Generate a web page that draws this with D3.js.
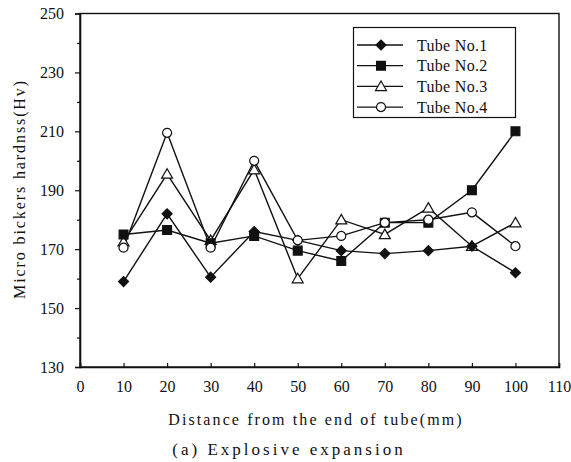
<!DOCTYPE html>
<html>
<head>
<meta charset="utf-8">
<script src="https://cdn.jsdelivr.net/npm/d3@7"></script>
<style>
  html, body { margin: 0; padding: 0; background: #fff; }
  svg { display: block; }
  text { font-family: "Liberation Serif", "Times New Roman", serif; fill: #111; }
</style>
</head>
<body>
<svg id="chart" width="571" height="462"></svg>
<script>
// Distance from the tube end (mm) at which hardness was measured
const distance = [10, 20, 30, 40, 50, 60, 70, 80, 90, 100];

// Micro Vickers hardness (Hv) for each tube
const tube1 = [159, 182, 160.5, 176, 173, 169.5, 168.5, 169.5, 171, 162];
const tube2 = [175, 176.5, 172, 174.5, 169.5, 166, 179, 179, 190, 210];
const tube3 = [172.5, 195.5, 173, 197, 160, 180, 175, 184, 171, 179];
const tube4 = [170.5, 209.5, 170.5, 200, 173, 174.5, 179, 180, 182.5, 171];

const seriesNames = ["Tube No.1", "Tube No.2", "Tube No.3", "Tube No.4"];
const seriesValues = [tube1, tube2, tube3, tube4];
const seriesMarkers = ["diamond", "square", "triangle", "circle"];
// Marker stacking: triangles at the back, circles in front
const markerOrder = [2, 1, 0, 3];

const xTicks = [0, 10, 20, 30, 40, 50, 60, 70, 80, 90, 100, 110];
const yTicks = [130, 150, 170, 190, 210, 230, 250];
const yMinorTicks = [140, 160, 180, 200, 220, 240];

const xTitle = "Distance from the end of tube(mm)";
const yTitle = "Micro bickers hardnss(Hv)";
const caption = "(a) Explosive expansion";

const svg = d3.select("#chart");

const x = d3.scaleLinear().domain([0, 110]).range([80, 559]);
const y = d3.scaleLinear().domain([130, 250]).range([367, 13.5]);

// Plot frame
svg.append("rect")
  .attr("x", x(0)).attr("y", y(250))
  .attr("width", x(110) - x(0)).attr("height", y(130) - y(250))
  .attr("fill", "none").attr("stroke", "#111").attr("stroke-width", 1.4);

// X axis: short inward ticks
const xAxis = svg.append("g")
  .attr("transform", `translate(0,${y(130)})`)
  .call(d3.axisBottom(x).tickValues(xTicks).tickSize(-4).tickPadding(14).tickFormat(d3.format("d")));
xAxis.select(".domain").attr("stroke", "#111").attr("stroke-width", 1.6);
xAxis.selectAll(".tick line").attr("stroke", "#111").attr("stroke-width", 1.2);
xAxis.selectAll(".tick text")
  .attr("font-size", 16).attr("font-family", "Liberation Serif").attr("fill", "#111");

// Y axis: outward major ticks with labels, shorter minor ticks
const yAxis = svg.append("g")
  .attr("transform", `translate(${x(0)},0)`)
  .call(d3.axisLeft(y).tickValues(yTicks).tickSize(5).tickPadding(11).tickFormat(d3.format("d")));
yAxis.select(".domain").attr("stroke", "#111").attr("stroke-width", 1.6);
yAxis.selectAll(".tick line").attr("stroke", "#111").attr("stroke-width", 1.2);
yAxis.selectAll(".tick text")
  .attr("font-size", 16).attr("font-family", "Liberation Serif").attr("fill", "#111");

const yMinor = svg.append("g")
  .attr("transform", `translate(${x(0)},0)`)
  .call(d3.axisLeft(y).tickValues(yMinorTicks).tickSize(3).tickFormat(""));
yMinor.select(".domain").remove();
yMinor.selectAll(".tick line").attr("stroke", "#111").attr("stroke-width", 1.2);

// Axis titles and caption
svg.append("text")
  .attr("x", 316).attr("y", 425)
  .attr("text-anchor", "middle")
  .attr("font-size", 16).attr("letter-spacing", 2.1)
  .text(xTitle);

svg.append("text")
  .attr("transform", "translate(25,189) rotate(-90)")
  .attr("text-anchor", "middle")
  .attr("font-size", 16).attr("letter-spacing", 1.9)
  .text(yTitle);

svg.append("text")
  .attr("x", 289).attr("y", 455)
  .attr("text-anchor", "middle")
  .attr("font-size", 17).attr("letter-spacing", 3)
  .text(caption);

// Marker shapes (diamond = square turned 45 degrees)
const symbolFor = {
  diamond: d3.symbol().type(d3.symbolSquare).size(50),
  square: d3.symbol().type(d3.symbolSquare).size(78),
  triangle: d3.symbol().type(d3.symbolTriangle).size(52),
  circle: d3.symbol().type(d3.symbolCircle).size(64)
};
const filled = { diamond: true, square: true, triangle: false, circle: false };
const turn = { diamond: " rotate(45)", square: "", triangle: " translate(0,1)", circle: "" };

function drawMarker(g, kind, cx, cy) {
  g.append("path")
    .attr("d", symbolFor[kind]())
    .attr("transform", `translate(${cx},${cy})` + turn[kind])
    .attr("fill", filled[kind] ? "#111" : "#fff")
    .attr("stroke", "#111")
    .attr("stroke-width", 1.2);
}

const line = d3.line().x((d, i) => x(distance[i])).y(d => y(d));

const plot = svg.append("g");
seriesValues.forEach((vals) => {
  plot.append("path")
    .datum(vals)
    .attr("d", line)
    .attr("fill", "none")
    .attr("stroke", "#111")
    .attr("stroke-width", 1.4);
});
markerOrder.forEach((s) => {
  const g = plot.append("g");
  seriesValues[s].forEach((v, i) => drawMarker(g, seriesMarkers[s], x(distance[i]), y(v)));
});

// Legend
const legend = svg.append("g");
legend.append("rect")
  .attr("x", 353.5).attr("y", 27.5).attr("width", 162).attr("height", 90)
  .attr("fill", "#fff").attr("stroke", "#111").attr("stroke-width", 1.2);
seriesNames.forEach((name, s) => {
  const ly = 45 + s * 20.7;
  legend.append("line")
    .attr("x1", 357).attr("x2", 403).attr("y1", ly).attr("y2", ly)
    .attr("stroke", "#111").attr("stroke-width", 1.3);
  drawMarker(legend, seriesMarkers[s], 381, ly);
  legend.append("text")
    .attr("x", 417).attr("y", ly).attr("dy", "0.35em")
    .attr("font-size", 16).attr("letter-spacing", 0.3)
    .text(name);
});
</script>
</body>
</html>
